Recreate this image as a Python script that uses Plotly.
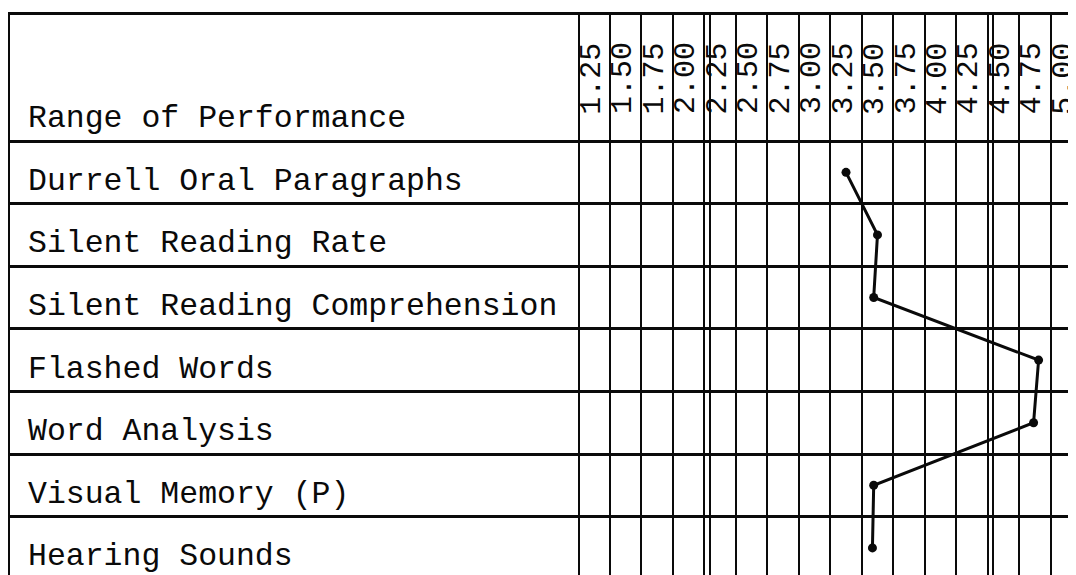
import plotly.graph_objects as go

# ---- data ----
tests = [
    "Durrell Oral Paragraphs",
    "Silent Reading Rate",
    "Silent Reading Comprehension",
    "Flashed Words",
    "Word Analysis",
    "Visual Memory (P)",
    "Hearing Sounds",
]
scores = [3.25, 3.50, 3.47, 4.78, 4.74, 3.47, 3.46]
scale_values = [1.25, 1.50, 1.75, 2.00, 2.25, 2.50, 2.75, 3.00,
                3.25, 3.50, 3.75, 4.00, 4.25, 4.50, 4.75, 5.00]
scale_labels = ["1.25", "1.50", "1.75", "2.00", "2.25", "2.50", "2.75", "3.00",
                "3.25", "3.50", "3.75", "4.00", "4.25", "4.50", "4.75", "5.00"]
header_label = "Range of Performance"
section_breaks = [2.00, 4.25]   # double rules after these columns

# ---- derived grid ----
half = 0.125
col_bounds = [v - half for v in scale_values] + [scale_values[-1] + half]
double_rules = [v + half + 0.042 for v in section_breaks]
row_idx = list(range(len(tests)))
row_bounds = [i - 0.5 for i in range(len(tests) + 1)]

FONT = "Liberation Mono, Courier New, monospace"
INK = "#0a0a0a"

fig = go.Figure()
fig.add_trace(go.Scatter(
    x=scores, y=row_idx, mode="lines+markers",
    line=dict(color=INK, width=3),
    marker=dict(color=INK, size=9),
    hoverinfo="skip", showlegend=False,
))

annotations = []
# header scale labels (rotated)
for v, lab in zip(scale_values, scale_labels):
    annotations.append(dict(
        x=v, y=-1.5, xref="x", yref="y", text=lab, showarrow=False,
        textangle=-90, xshift=-2,
        font=dict(family=FONT, size=30, color=INK),
    ))
# row labels (header label sits in the lower part of the header band)
for i, t in enumerate([header_label] + tests):
    annotations.append(dict(
        x=0, xref="paper", y=i - 1, yref="y", text=t, showarrow=False,
        xanchor="left", yanchor="middle", xshift=16, yshift=-9,
        font=dict(family=FONT, size=31.5, color=INK),
    ))

fig.update_layout(
    width=1068, height=567,
    margin=dict(l=2, r=0, t=7, b=0),
    paper_bgcolor="white", plot_bgcolor="white",
    annotations=annotations,
    xaxis=dict(
        range=[-3.391, 5.077], tickmode="array",
        tickvals=col_bounds + double_rules,
        showticklabels=False, ticks="", zeroline=False,
        showgrid=True, gridcolor=INK, gridwidth=2.3,
        showline=True, mirror=True, linecolor=INK, linewidth=2.5,
    ),
    yaxis=dict(
        range=[6.433, -2.513], tickmode="array", tickvals=row_bounds,
        showticklabels=False, ticks="", zeroline=False,
        showgrid=True, gridcolor=INK, gridwidth=2.5,
        showline=True, mirror=False, linecolor=INK, linewidth=2.5,
    ),
)

fig.write_html("out.html")
